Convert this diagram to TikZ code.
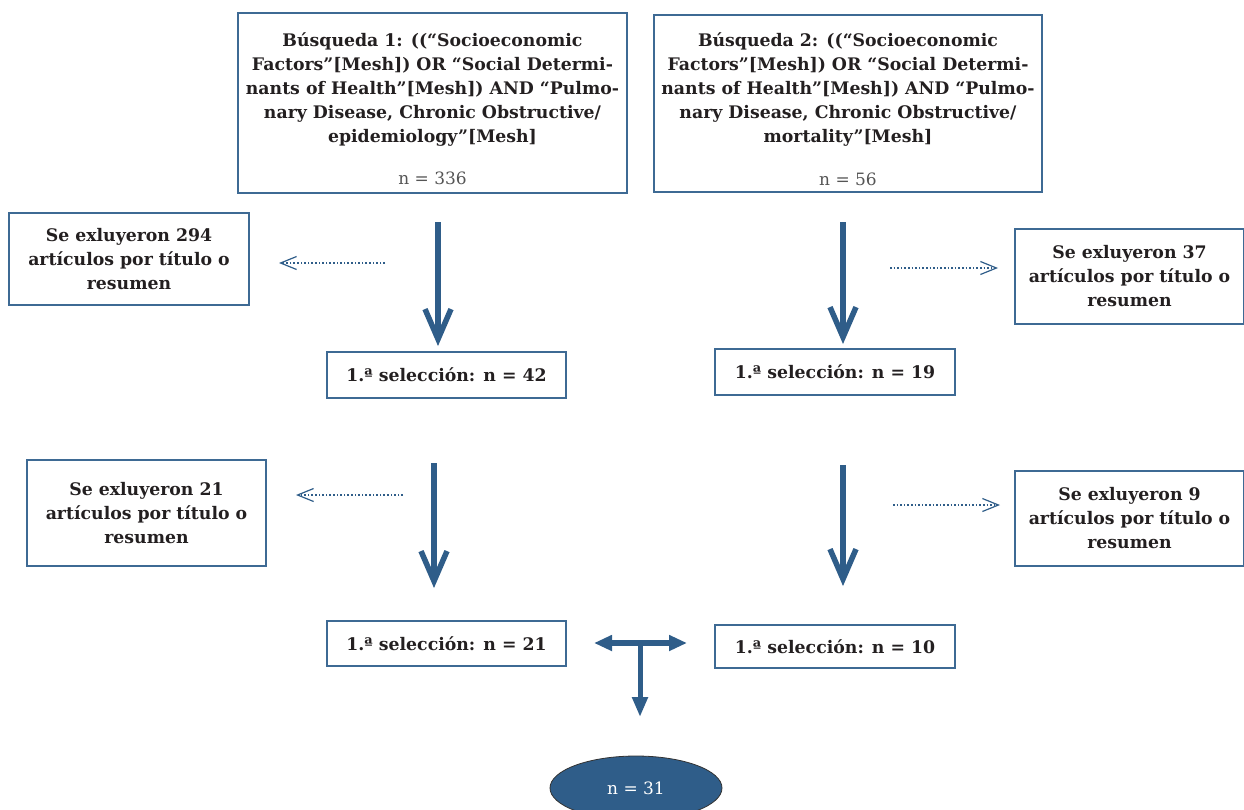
\documentclass[tikz,border=0pt]{standalone}
\usepackage{fontspec}
\setmainfont{DejaVu Serif}
\usetikzlibrary{arrows.meta,shapes.geometric}
\definecolor{frame}{HTML}{3E6A94}
\definecolor{arrowc}{HTML}{2F5D89}
\definecolor{txt}{HTML}{231F20}
\definecolor{ntxt}{HTML}{555555}
\tikzset{
  box/.style={draw=frame,line width=1.6pt,rectangle,inner sep=0pt},
  btxt/.style={align=center,text=txt,font=\fontsize{17.3}{24}\selectfont\bfseries},
  ntext/.style={text=ntxt,font=\fontsize{17}{24}\selectfont},
  bigarrow/.style={draw=arrowc,line width=5.5pt,-{Straight Barb[length=30pt,width=26pt]}},
  dotarrow/.style={draw=arrowc,line width=1.6pt,dotted,-{Straight Barb[length=16pt,width=13pt,line width=1.2pt]}},
  tarrow/.style={draw=arrowc,line width=6pt},
}
\begin{document}
\begin{tikzpicture}[x=1pt,y=-1pt]
\useasboundingbox (0,0) rectangle (1244,809);
% search boxes
\node[box,minimum width=389pt,minimum height=180pt] (b1) at (432.5,103) {};
\node[btxt] (b1t) at (432.5,89) {Búsqueda 1: ((“Socioeconomic\\Factors”[Mesh]) OR “Social Determi-\\nants of Health”[Mesh]) AND “Pulmo-\\nary Disease, Chronic Obstructive/\\epidemiology”[Mesh]};
\node[ntext] (b1n) at (432.5,178) {n = 336};
\node[box,minimum width=388pt,minimum height=177pt] (b2) at (848,103.5) {};
\node[btxt] (b2t) at (848,89) {Búsqueda 2: ((“Socioeconomic\\Factors”[Mesh]) OR “Social Determi-\\nants of Health”[Mesh]) AND “Pulmo-\\nary Disease, Chronic Obstructive/\\mortality”[Mesh]};
\node[ntext] (b2n) at (848,179) {n = 56};
% exclusion boxes
\node[box,minimum width=240pt,minimum height=92pt,btxt] (e1) at (129,259) {Se exluyeron 294\\artículos por título o\\resumen};
\node[box,minimum width=229pt,minimum height=95pt,btxt] (e2) at (1129.5,276.5) {Se exluyeron 37\\artículos por título o\\resumen};
\node[box,minimum width=239pt,minimum height=106pt,btxt] (e3) at (146.5,513) {Se exluyeron 21\\artículos por título o\\resumen};
\node[box,minimum width=229pt,minimum height=95pt,btxt] (e4) at (1129.5,518.5) {Se exluyeron 9\\artículos por título o\\resumen};
% selection boxes
\node[box,minimum width=239pt,minimum height=46pt,btxt] (s1) at (446.5,375) {1.ª selección: n = 42};
\node[box,minimum width=240pt,minimum height=46pt,btxt] (s2) at (835,372) {1.ª selección: n = 19};
\node[box,minimum width=239pt,minimum height=45pt,btxt] (s3) at (446.5,643.5) {1.ª selección: n = 21};
\node[box,minimum width=240pt,minimum height=43pt,btxt] (s4) at (835,646.5) {1.ª selección: n = 10};
% final ellipse
\node[ellipse,draw=black!80,line width=0.8pt,fill=arrowc,minimum width=172pt,minimum height=64pt,text=white,font=\fontsize{17}{20}\selectfont] (fin) at (636,788) {n = 31};
% coordinates for arrows
\coordinate (a1s) at (438,222); \coordinate (a1e) at (438,346);
\coordinate (a2s) at (843,222); \coordinate (a2e) at (843,344);
\coordinate (a3s) at (434,463); \coordinate (a3e) at (434,588);
\coordinate (a4s) at (843,465); \coordinate (a4e) at (843,586);
\coordinate (d1s) at (385,263); \coordinate (d1e) at (279,263);
\coordinate (d2s) at (890,268); \coordinate (d2e) at (998,268);
\coordinate (d3s) at (403,495); \coordinate (d3e) at (296,495);
\coordinate (d4s) at (893,505); \coordinate (d4e) at (1000,505);
\coordinate (tl) at (594,643); \coordinate (tr) at (687,643);
\coordinate (tm) at (640,643); \coordinate (tb) at (640,717);
\draw[bigarrow] (a1s) -- (a1e);
\draw[bigarrow] (a2s) -- (a2e);
\draw[bigarrow] (a3s) -- (a3e);
\draw[bigarrow] (a4s) -- (a4e);
\draw[dotarrow] (d1s) -- (d1e);
\draw[dotarrow] (d2s) -- (d2e);
\draw[dotarrow] (d3s) -- (d3e);
\draw[dotarrow] (d4s) -- (d4e);
\draw[tarrow,{Triangle[length=18pt,width=15pt]}-{Triangle[length=18pt,width=15pt]}] (tl) -- (tr);
\draw[tarrow,line width=5pt,-{Triangle[length=20pt,width=15pt]}] (tm) -- (tb);
\end{tikzpicture}
\end{document}
